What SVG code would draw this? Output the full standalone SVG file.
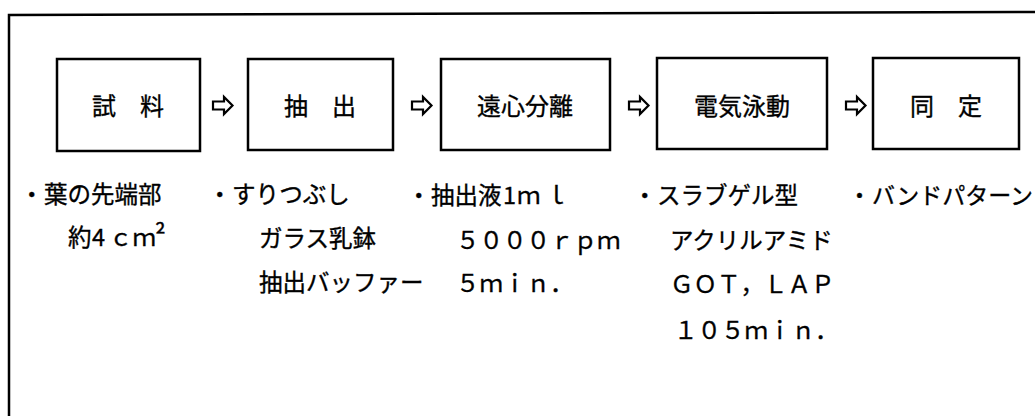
<svg xmlns="http://www.w3.org/2000/svg" width="1035" height="416" viewBox="0 0 1035 416">
<style>
.frame{fill:none;stroke:#000;stroke-width:2.5}
.box{fill:#fff;stroke:#000;stroke-width:2.5}
.arr{fill:#fff;stroke:#000;stroke-width:2.2;stroke-linejoin:miter}
text{font-family:"Noto Sans CJK JP","Noto Sans CJK SC",sans-serif;font-size:23.5px;fill:#000;stroke:#000;stroke-width:0.35}
.lbl{text-anchor:middle;font-size:24px}
.c5{font-size:23px}
</style>
<rect width="1035" height="416" fill="#fff"/>
<path class="frame" d="M9 416 V15 L1035 12"/>
<g id="connectors">
<path class="arr" d="M213 101.5 H224 V97 L232.5 105.5 L224 114 V109.5 H213 Z"/>
<path class="arr" d="M412 101.5 H423 V97 L431.5 105.5 L423 114 V109.5 H412 Z"/>
<path class="arr" d="M629 101.5 H640 V97 L648.5 105.5 L640 114 V109.5 H629 Z"/>
<path class="arr" d="M846 101.5 H857 V97 L865.5 105.5 L857 114 V109.5 H846 Z"/>
</g>
<g id="n1"><rect class="box" x="57" y="59" width="143" height="92"/><text class="lbl" x="128" y="115">試　料</text></g>
<g id="n2"><rect class="box" x="248" y="59" width="145" height="91"/><text class="lbl" x="320" y="115">抽　出</text></g>
<g id="n3"><rect class="box" x="441" y="59" width="169" height="91"/><text class="lbl" x="525" y="115">遠心分離</text></g>
<g id="n4"><rect class="box" x="657" y="58" width="170" height="91"/><text class="lbl" x="742" y="115">電気泳動</text></g>
<g id="n5"><rect class="box" x="873" y="58" width="146" height="91"/><text class="lbl" x="946" y="115">同　定</text></g>
<g id="notes1">
<text x="20" y="203">・<tspan x="44">葉の先端部</tspan></text>
<text x="68" y="246">約<tspan x="92">4</tspan><tspan x="109">ｃｍ</tspan><tspan x="155" font-size="26" dy="-1">²</tspan></text>
</g>
<g id="notes2">
<text x="208" y="203">・<tspan x="232">すりつぶし</tspan></text>
<text x="259" y="247">ガラス乳鉢</text>
<text x="259" y="291">抽出バッファー</text>
</g>
<g id="notes3">
<text x="407" y="204">・<tspan x="431">抽出液</tspan><tspan x="503">1</tspan><tspan x="517">ｍ</tspan><tspan x="545">ｌ</tspan></text>
<text x="456" y="249">５０００ｒｐｍ</text>
<text x="456" y="292">５ｍｉｎ．</text>
</g>
<g id="notes4">
<text x="633" y="204">・<tspan x="657">スラブゲル型</tspan></text>
<text x="670" y="249">アクリルアミド</text>
<text x="670" y="293">ＧＯＴ，ＬＡＰ</text>
<text x="674" y="339">１０５ｍｉｎ．</text>
</g>
<g id="notes5">
<text class="c5" x="848" y="204">・<tspan x="872">バンドパターン</tspan></text>
</g>
</svg>
